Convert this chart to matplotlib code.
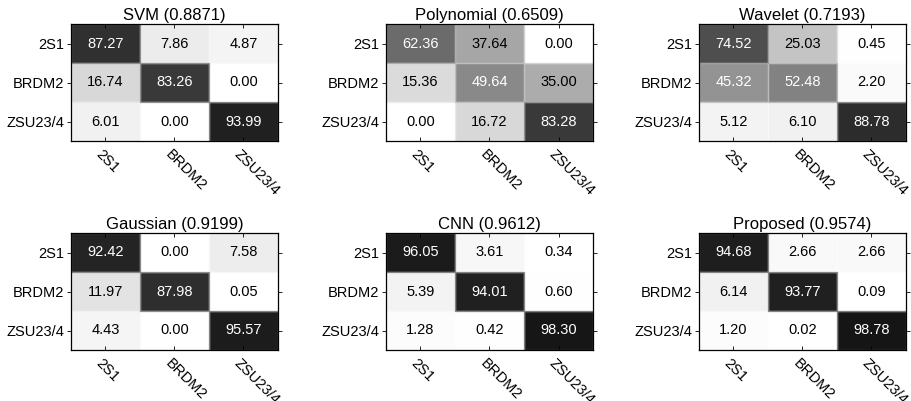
import numpy as np
import matplotlib
matplotlib.use('Agg')
import matplotlib.pyplot as plt
from matplotlib.colors import LinearSegmentedColormap
from matplotlib.patches import Rectangle
from matplotlib.transforms import ScaledTranslation

plt.rcParams['font.family'] = ['Liberation Sans', 'DejaVu Sans']

classes = ['2S1', 'BRDM2', 'ZSU23/4']

titles = ['SVM (0.8871)', 'Polynomial (0.6509)', 'Wavelet (0.7193)',
          'Gaussian (0.9199)', 'CNN (0.9612)', 'Proposed (0.9574)']

svm = [[87.27, 7.86, 4.87],
       [16.74, 83.26, 0.00],
       [6.01, 0.00, 93.99]]
polynomial = [[62.36, 37.64, 0.00],
              [15.36, 49.64, 35.00],
              [0.00, 16.72, 83.28]]
wavelet = [[74.52, 25.03, 0.45],
           [45.32, 52.48, 2.20],
           [5.12, 6.10, 88.78]]
gaussian = [[92.42, 0.00, 7.58],
            [11.97, 87.98, 0.05],
            [4.43, 0.00, 95.57]]
cnn = [[96.05, 3.61, 0.34],
       [5.39, 94.01, 0.60],
       [1.28, 0.42, 98.30]]
proposed = [[94.68, 2.66, 2.66],
            [6.14, 93.77, 0.09],
            [1.20, 0.02, 98.78]]

matrices = [svm, polynomial, wavelet, gaussian, cnn, proposed]

# white -> near black, 0..100 %
cmap = LinearSegmentedColormap.from_list('wb', ['#ffffff', '#121212'])

fig = plt.figure(figsize=(9.12, 4.01), dpi=100)

lefts = [71 / 912, 386 / 912, 699 / 912]
bottoms = [1 - 141 / 401, 1 - 350 / 401]
w, h = 207 / 912, 117 / 401

# rotated x labels start just left of the tick, a bit below the frame
shift = ScaledTranslation(-2 / 100, -6 / 100, fig.dpi_scale_trans)

for k, (mat, title) in enumerate(zip(matrices, titles)):
    r, c = divmod(k, 3)
    ax = fig.add_axes([lefts[c], bottoms[r], w, h])
    m = np.array(mat)
    ax.pcolormesh(np.arange(4) - 0.5, np.arange(4) - 0.5, m, cmap=cmap,
                  vmin=0, vmax=100)
    # light outline around shaded cells, darker cells drawn last
    for i, j in sorted(np.ndindex(3, 3), key=lambda ij: m[ij]):
        ax.add_patch(Rectangle((j - 0.5, i - 0.5), 1, 1, fill=False,
                               edgecolor=cmap(m[i, j] * 0.55 / 100), lw=0.9))
    ax.set_xlim(-0.5, 2.5)
    ax.set_ylim(2.5, -0.5)
    for i in range(3):
        for j in range(3):
            v = m[i, j]
            ax.text(j, i, f'{v:.2f}', ha='center', va='center', fontsize=10.5,
                    color='white' if v > 40 else 'black')
    ax.set_title(title, fontsize=12, pad=3)
    ax.set_xticks(range(3))
    ax.set_yticks(range(3))
    ax.set_yticklabels(classes, fontsize=10.5)
    ax.set_xticklabels([])
    xt = ax.get_xaxis_transform() + shift
    for j, name in enumerate(classes):
        ax.text(j, 0, name, transform=xt, fontsize=10.5, rotation=-45,
                ha='left', va='top', rotation_mode='anchor', clip_on=False)
    ax.tick_params(axis='x', direction='in', top=True, length=3, width=0.6)
    ax.tick_params(axis='y', direction='out', right=True, length=3, width=0.6,
                   pad=2)
    for s in ax.spines.values():
        s.set_linewidth(0.9)

fig.savefig('out.png', dpi=100)
